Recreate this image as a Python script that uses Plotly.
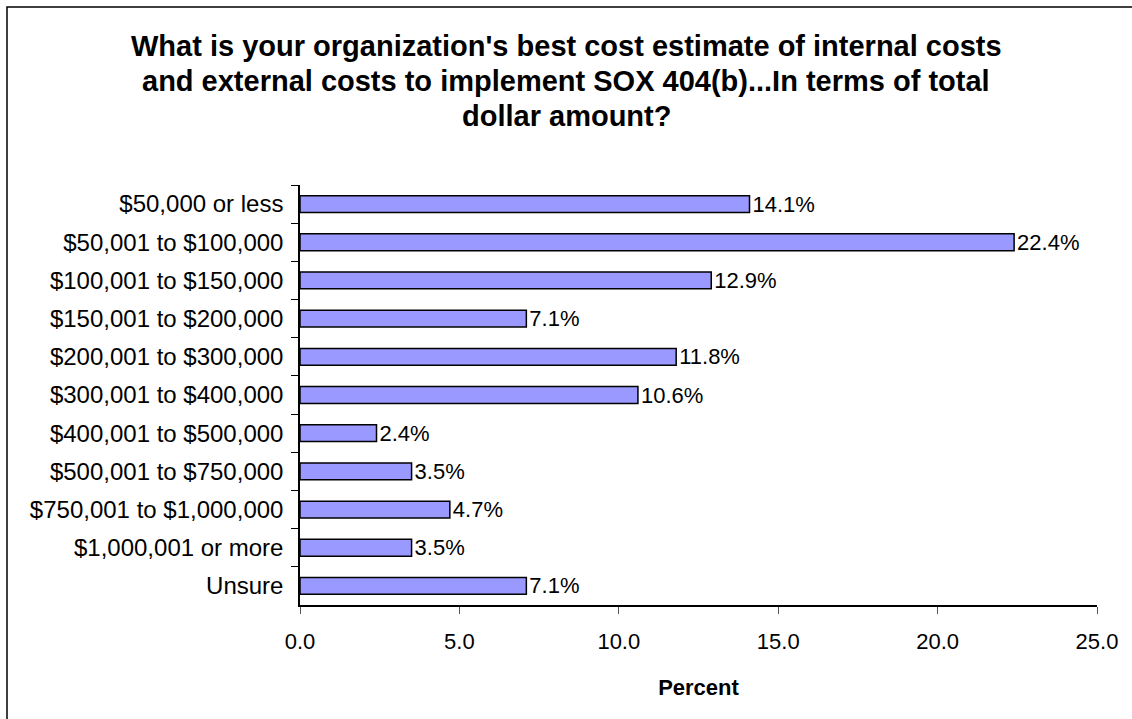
import plotly.graph_objects as go

# Survey responses: total cost to implement SOX 404(b)
categories = [
    "$50,000 or less",
    "$50,001 to $100,000",
    "$100,001 to $150,000",
    "$150,001 to $200,000",
    "$200,001 to $300,000",
    "$300,001 to $400,000",
    "$400,001 to $500,000",
    "$500,001 to $750,000",
    "$750,001 to $1,000,000",
    "$1,000,001 or more",
    "Unsure",
]
percent = [14.1, 22.4, 12.9, 7.1, 11.8, 10.6, 2.4, 3.5, 4.7, 3.5, 7.1]
x_ticks = [0, 5, 10, 15, 20, 25]
title_lines = [
    "What is your organization's best cost estimate of internal costs",
    "and external costs to implement SOX 404(b)...In terms of total",
    "dollar amount?",
]

W, H = 1132, 719
L, R, T, B = 300, 35, 185, 114
FONT = "Arial, Liberation Sans, sans-serif"
pw, ph = W - L - R, H - T - B


def px_x(x):
    return (x - L) / pw


def px_y(y):
    return (H - B - y) / ph


fig = go.Figure(
    go.Bar(
        x=percent,
        y=categories,
        orientation="h",
        marker=dict(color="#9999FF", line=dict(color="black", width=1.5)),
        text=[f"{v:.1f}%" for v in percent],
        textposition="outside",
        constraintext="none",
        textfont=dict(family=FONT, size=22, color="black"),
        cliponaxis=False,
        width=0.44,
    )
)

# frame around the chart area
fig.add_shape(
    type="rect", xref="paper", yref="paper",
    x0=px_x(7), x1=px_x(W + 20), y0=px_y(H + 20), y1=px_y(7),
    line=dict(color="black", width=1.5), fillcolor="rgba(0,0,0,0)", layer="below",
)

# three-line bold title, centred on the page
for line, yc in zip(title_lines, [46, 81, 116]):
    fig.add_annotation(
        text=line, showarrow=False,
        xref="paper", yref="paper", x=px_x(W / 2), y=px_y(yc),
        xanchor="center", yanchor="middle",
        font=dict(family=FONT, size=29, color="black", weight="bold"),
    )

fig.update_layout(
    width=W, height=H,
    margin=dict(l=L, r=R, t=T, b=B),
    paper_bgcolor="white", plot_bgcolor="white",
    showlegend=False,
    font=dict(family=FONT, color="black"),
    xaxis=dict(
        range=[0, 25],
        tickvals=x_ticks,
        tickformat=".1f",
        ticks="outside", ticklen=7, tickwidth=1, tickcolor="#555",
        ticklabelstandoff=9,
        showline=True, linecolor="black", linewidth=1.5,
        showgrid=False, zeroline=False,
        tickfont=dict(family=FONT, size=22, color="black"),
        title=dict(text="Percent", standoff=26,
                   font=dict(family=FONT, size=22, color="black", weight="bold")),
    ),
    yaxis=dict(
        autorange="reversed",
        ticks="outside", ticklen=7, tickwidth=1, tickcolor="black",
        tickson="boundaries",
        ticklabelstandoff=10,
        showline=True, linecolor="black", linewidth=1.5,
        showgrid=False, zeroline=False,
        tickfont=dict(family=FONT, size=24, color="black"),
    ),
)

fig.write_html("out.html")
